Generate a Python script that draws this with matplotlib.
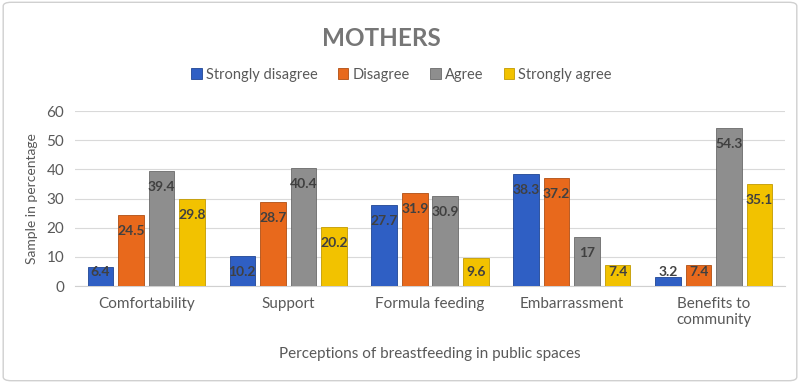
import matplotlib
matplotlib.use("Agg")
import matplotlib.pyplot as plt
import numpy as np
from matplotlib.patches import FancyBboxPatch

categories = ["Comfortability", "Support", "Formula feeding", "Embarrassment", "Benefits to\ncommunity"]
series_names = ["Strongly disagree", "Disagree", "Agree", "Strongly agree"]
strongly_disagree = [6.4, 10.2, 27.7, 38.3, 3.2]
disagree = [24.5, 28.7, 31.9, 37.2, 7.4]
agree = [39.4, 40.4, 30.9, 17, 54.3]
strongly_agree = [29.8, 20.2, 9.6, 7.4, 35.1]
yticks = [0, 10, 20, 30, 40, 50, 60]

values = [strongly_disagree, disagree, agree, strongly_agree]
colors = ["#2F5FC4", "#E8691C", "#8E8E8E", "#F2C200"]
edges = ["#1F4594", "#B04E12", "#6A6A6A", "#C29A00"]

plt.rcParams['font.family'] = ['Lato', 'DejaVu Sans']
fig = plt.figure(figsize=(8, 3.83), dpi=100)
ax = fig.add_axes([0.094, 0.253, 0.887, 0.457])

# figure border
fig.patches.append(FancyBboxPatch((0.004, 0.006), 0.992, 0.988, boxstyle="round,pad=0,rounding_size=0.01",
                                  transform=fig.transFigure, fill=False, edgecolor="#D0D0D0", lw=1))

x = np.arange(len(categories))
w = 0.18
step = 0.215
for i, (vals, c, e, name) in enumerate(zip(values, colors, edges, series_names)):
    pos = x + (i - 1.5) * step
    bars = ax.bar(pos, vals, width=w, color=c, edgecolor=e, linewidth=0.6, label=name, zorder=3)
    for b, v in zip(bars, vals):
        ty = max(v - 5.5, 4.8)
        ax.text(b.get_x() + b.get_width() / 2, ty, f"{v:g}", ha="center", va="center",
                fontsize=10, fontweight="bold", color="#404040", zorder=5)

ax.set_ylim(0, 60)
ax.set_xlim(-0.5, len(categories) - 0.5)
ax.set_yticks(yticks)
ax.set_xticks(x)
ax.set_xticklabels(categories, fontsize=11, color="#595959")
ax.tick_params(axis='y', labelsize=11, colors="#595959", length=0, pad=8)
ax.tick_params(axis='x', length=0, pad=8)
ax.grid(axis='y', color="#D9D9D9", lw=0.8, zorder=0)
for s in ["top", "right", "left"]:
    ax.spines[s].set_visible(False)
ax.spines["bottom"].set_color("#D0D0D0")
ax.set_ylabel("Sample in percentage", fontsize=10, color="#595959", labelpad=6)
ax.set_xlabel("Perceptions of breastfeeding in public spaces", fontsize=11, color="#595959", labelpad=14)

fig.text(0.477, 0.9, "MOTHERS", ha="center", va="center", fontsize=17.5, fontweight="bold", color="#767676")
leg = fig.legend(loc="center", bbox_to_anchor=(0.502, 0.805), ncol=4, frameon=False, fontsize=10.5,
                 handlelength=0.7, handleheight=0.7, handletextpad=0.3, columnspacing=1.4)
for t in leg.get_texts():
    t.set_color("#595959")

fig.savefig("out.png", dpi=100)
